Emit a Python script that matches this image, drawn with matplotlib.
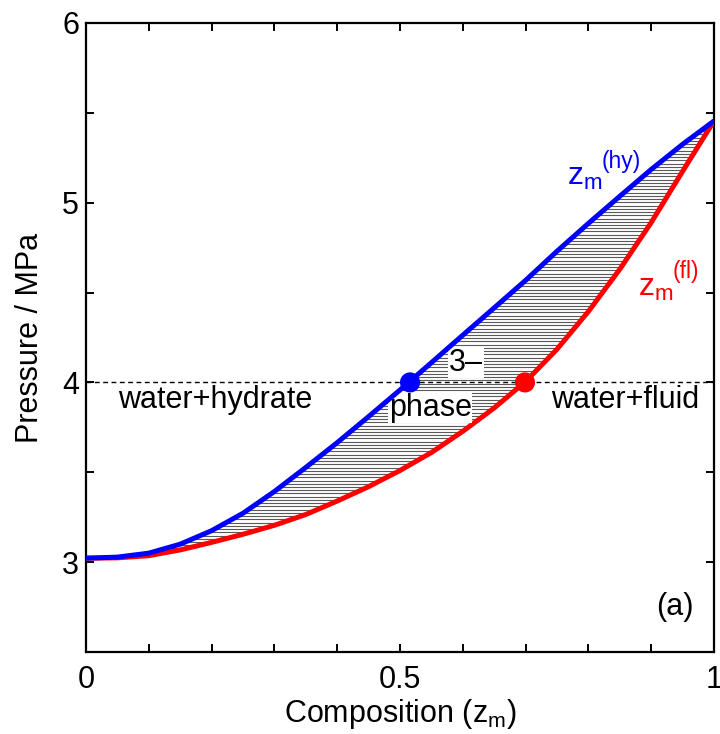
import matplotlib
matplotlib.use("Agg")
import matplotlib.pyplot as pl
import numpy as np

pl.rcParams["font.family"] = ["Liberation Sans", "DejaVu Sans"]
pl.rcParams["mathtext.fontset"] = "custom"
pl.rcParams["mathtext.rm"] = "Liberation Sans"
pl.rcParams["mathtext.it"] = "Liberation Sans"

# composition grid shared by both boundaries
zGrid = [0.00, 0.05, 0.10, 0.15, 0.20, 0.25, 0.30, 0.35, 0.40, 0.45, 0.50,
         0.55, 0.60, 0.65, 0.70, 0.75, 0.80, 0.85, 0.90, 0.95, 1.00]

# hydrate-side boundary z_m^(hy), pressure in MPa
hyP = [3.022, 3.028, 3.050, 3.100, 3.175, 3.272, 3.393, 3.527, 3.665, 3.810, 3.958,
       4.110, 4.263, 4.415, 4.568, 4.730, 4.885, 5.036, 5.185, 5.325, 5.455]

# fluid-side boundary z_m^(fl), pressure in MPa
flP = [3.022, 3.024, 3.036, 3.068, 3.110, 3.155, 3.205, 3.265, 3.340, 3.420, 3.510,
       3.610, 3.728, 3.858, 4.005, 4.185, 4.395, 4.630, 4.890, 5.175, 5.455]

pressureCut = 4.0
dotZ = [0.516, 0.699]
dotColors = ["#0000ff", "#ff0000"]

tieStep = 0.018

figure, axes = pl.subplots(figsize=(7.2, 7.34), dpi=100)
figure.subplots_adjust(left=0.1194, right=0.9917, top=0.9687, bottom=0.1117)

# horizontal tie lines filling the three-phase region
tieP = np.arange(hyP[0] + tieStep, hyP[-1], tieStep)
tieLeft = np.interp(tieP, hyP, zGrid)
tieRight = np.interp(tieP, flP, zGrid)
axes.hlines(tieP, tieLeft, tieRight, colors="0.35", linewidth=0.8, zorder=1)

axes.axhline(pressureCut, color="k", linestyle=(0, (3.5, 2.5)), linewidth=1.0, zorder=2)

axes.plot(zGrid, flP, color="#ff0000", linewidth=3.6, solid_capstyle="butt", zorder=3)
axes.plot(zGrid, hyP, color="#0000ff", linewidth=3.6, solid_capstyle="butt", zorder=4)
axes.scatter(dotZ, [pressureCut] * 2, s=210, c=dotColors, zorder=5, linewidths=0)

fontSize = 22
whiteBox = dict(facecolor="white", edgecolor="none", pad=0.5)
axes.text(0.051, 3.90, "water+hydrate", fontsize=fontSize, ha="left", va="center")
axes.text(0.977, 3.90, "water+fluid", fontsize=fontSize, ha="right", va="center")
axes.text(0.605, 4.11, "3\u2013", fontsize=fontSize, ha="center", va="center", bbox=whiteBox, zorder=3.5)
axes.text(0.548, 3.86, "phase", fontsize=fontSize, ha="center", va="center", bbox=whiteBox, zorder=3.5)
axes.text(0.967, 2.75, "(a)", fontsize=fontSize, ha="right", va="center")

def curveLabel(x, y, phase, color):
	axes.annotate(r"z$\mathregular{_m}$", xy=(x, y), fontsize=23, color=color,
		ha="left", va="baseline")
	axes.annotate(f"({phase})", xy=(x, y), xytext=(25, 12.5), textcoords="offset points",
		fontsize=16.5, color=color, ha="left", va="baseline")

curveLabel(0.766, 5.097, "hy", "#0000ff")
curveLabel(0.879, 4.483, "fl", "#ff0000")

axes.set_xlim(0, 1)
axes.set_ylim(2.5, 6)
axes.set_xticks([0, 0.5, 1])
axes.set_xticklabels(["0", "0.5", "1"])
axes.set_xticks(np.arange(0.1, 1.0, 0.1), minor=True)
axes.set_yticks([3, 4, 5, 6])
axes.set_yticklabels(["3", "4", "5", "6"])
axes.set_yticks([2.5, 3.5, 4.5, 5.5], minor=True)
axes.tick_params(which="both", direction="in", top=True, right=True, length=6, width=1.4,
	labelsize=fontSize)
axes.tick_params(axis="x", which="both", pad=9)
axes.tick_params(axis="y", which="both", pad=5)
for spine in axes.spines.values():
	spine.set_linewidth(1.6)

axes.set_xlabel(r"Composition (z$\mathregular{_m}$)", fontsize=fontSize, labelpad=2)
axes.set_ylabel("Pressure / MPa", fontsize=fontSize, labelpad=12)

figure.savefig("out.png", dpi=100)
pl.close(figure)
